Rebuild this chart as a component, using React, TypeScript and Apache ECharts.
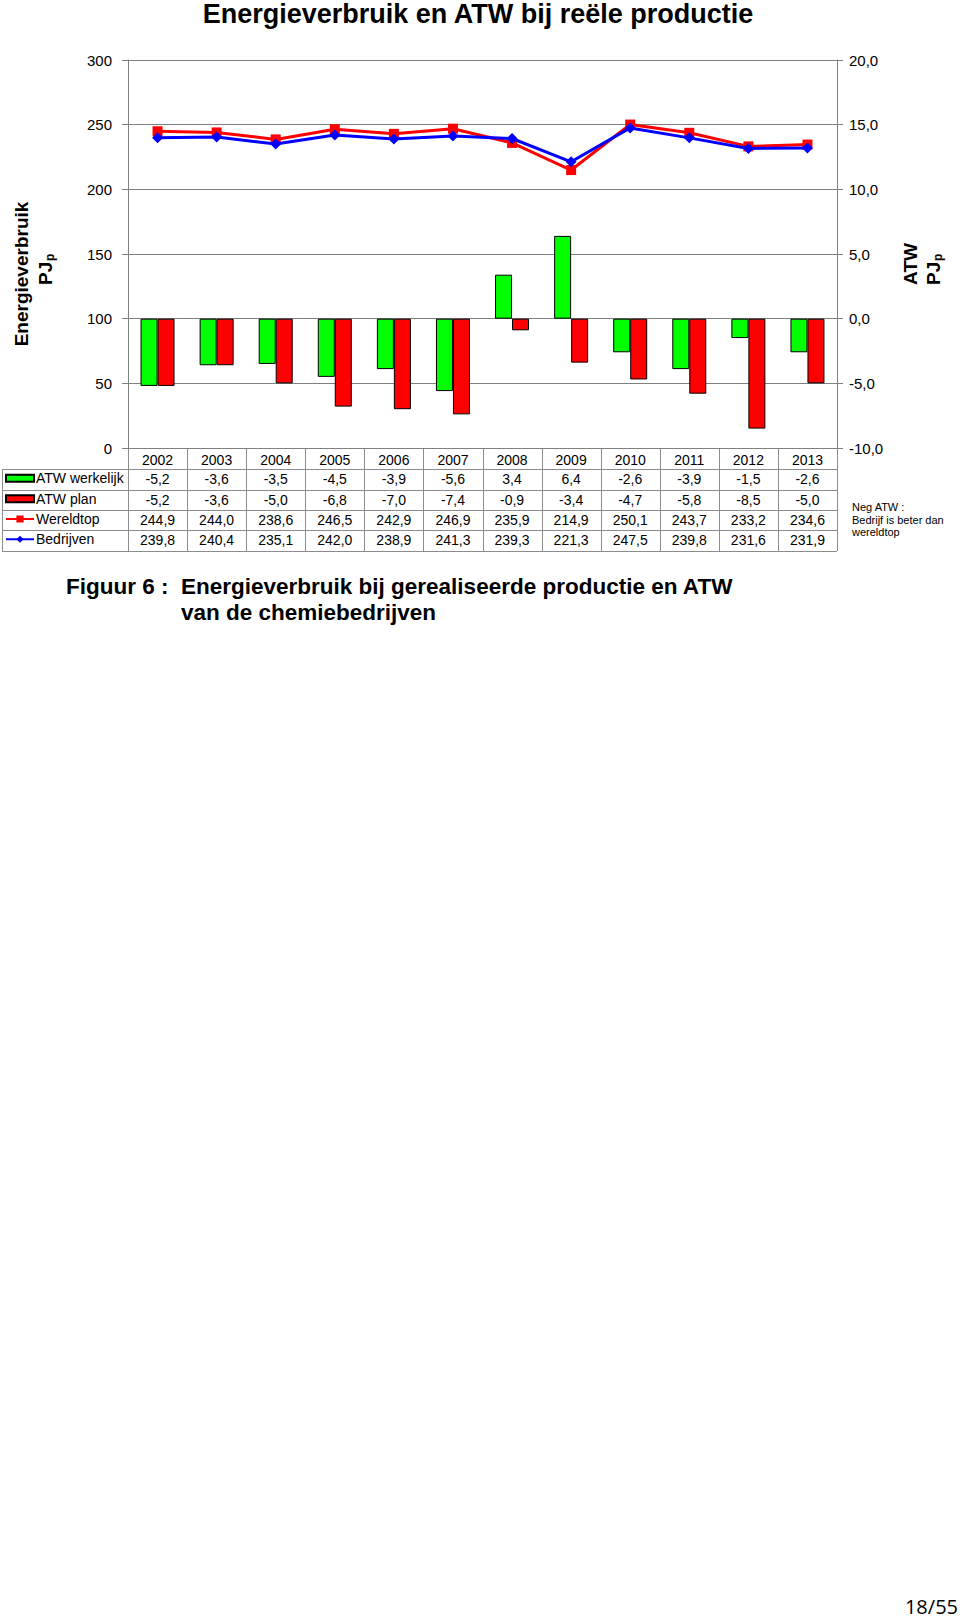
import React, { useEffect, useRef } from 'react';
import * as echarts from 'echarts';

const years = ['2002', '2003', '2004', '2005', '2006', '2007', '2008', '2009', '2010', '2011', '2012', '2013'];
const atwWerkelijk = [-5.2, -3.6, -3.5, -4.5, -3.9, -5.6, 3.4, 6.4, -2.6, -3.9, -1.5, -2.6];
const atwPlan = [-5.2, -3.6, -5.0, -6.8, -7.0, -7.4, -0.9, -3.4, -4.7, -5.8, -8.5, -5.0];
const wereldtop = [244.9, 244.0, 238.6, 246.5, 242.9, 246.9, 235.9, 214.9, 250.1, 243.7, 233.2, 234.6];
const bedrijven = [239.8, 240.4, 235.1, 242.0, 238.9, 241.3, 239.3, 221.3, 247.5, 239.8, 231.6, 231.9];
const seriesNames = ['ATW werkelijk', 'ATW plan', 'Wereldtop', 'Bedrijven'];
const leftAxis = { min: 0, max: 300, interval: 50 };
const rightAxis = { min: -10, max: 20, interval: 5 };

const FONT = "'Liberation Sans', Arial, sans-serif";
const fmt = (v: number) => v.toFixed(1).replace('.', ',');

export default function App() {
  const ref = useRef<HTMLDivElement>(null);
  useEffect(() => {
    if (!ref.current) return;
    const chart = echarts.init(ref.current, undefined, { renderer: 'svg' });

    const gridLeft = 128;
    const gridRight = 837;
    const gridTop = 60;
    const gridBottom = 448;
    const colW = (gridRight - gridLeft) / years.length;
    const rowLines = [469, 489.5, 510, 530, 550.5];
    const rowCenters = [479.25, 499.75, 520, 540.25];
    const tableLine = '#8c8c8c';
    const graphic: any[] = [];

    rowLines.forEach((y) => {
      graphic.push({ type: 'line', shape: { x1: 2, y1: Math.round(y) + 0.5, x2: gridRight, y2: Math.round(y) + 0.5 }, style: { stroke: tableLine, lineWidth: 1 }, silent: true });
    });
    graphic.push({ type: 'line', shape: { x1: 2.5, y1: 469, x2: 2.5, y2: 551 }, style: { stroke: tableLine, lineWidth: 1 }, silent: true });
    for (let i = 0; i <= years.length; i++) {
      const x = Math.round(gridLeft + i * colW) + 0.5;
      graphic.push({ type: 'line', shape: { x1: x, y1: gridBottom, x2: x, y2: 551 }, style: { stroke: tableLine, lineWidth: 1 }, silent: true });
    }
    const rows = [atwWerkelijk, atwPlan, wereldtop, bedrijven];
    rows.forEach((arr, r) => {
      arr.forEach((v, i) => {
        graphic.push({
          type: 'text', x: gridLeft + (i + 0.5) * colW, y: rowCenters[r],
          style: { text: fmt(v), align: 'center', verticalAlign: 'middle', fontSize: 14, fontFamily: FONT, fill: '#000' },
        });
      });
    });

    graphic.push({ type: 'text', x: 478, y: 0, style: { text: 'Energieverbruik en ATW bij reële productie', align: 'center', verticalAlign: 'top', fontSize: 27, fontWeight: 'bold', fontFamily: FONT, fill: '#000' } });

    graphic.push({ type: 'text', x: 21, y: 274, rotation: Math.PI / 2, style: { text: 'Energieverbruik', align: 'center', verticalAlign: 'middle', fontSize: 19, fontWeight: 'bold', fontFamily: FONT, fill: '#000' } });
    graphic.push({ type: 'text', x: 45, y: 285, rotation: Math.PI / 2, style: { text: 'PJ', align: 'left', verticalAlign: 'middle', fontSize: 19, fontWeight: 'bold', fontFamily: FONT, fill: '#000' } });
    graphic.push({ type: 'text', x: 50, y: 261, rotation: Math.PI / 2, style: { text: 'p', align: 'left', verticalAlign: 'middle', fontSize: 12, fontWeight: 'bold', fontFamily: FONT, fill: '#000' } });

    graphic.push({ type: 'text', x: 910, y: 264, rotation: Math.PI / 2, style: { text: 'ATW', align: 'center', verticalAlign: 'middle', fontSize: 19, fontWeight: 'bold', fontFamily: FONT, fill: '#000' } });
    graphic.push({ type: 'text', x: 933, y: 285, rotation: Math.PI / 2, style: { text: 'PJ', align: 'left', verticalAlign: 'middle', fontSize: 19, fontWeight: 'bold', fontFamily: FONT, fill: '#000' } });
    graphic.push({ type: 'text', x: 938, y: 261, rotation: Math.PI / 2, style: { text: 'p', align: 'left', verticalAlign: 'middle', fontSize: 12, fontWeight: 'bold', fontFamily: FONT, fill: '#000' } });

    ['Neg ATW :', 'Bedrijf is beter dan', 'wereldtop'].forEach((t, i) => {
      graphic.push({ type: 'text', x: 852, y: 507 + i * 12.5, style: { text: t, align: 'left', verticalAlign: 'middle', fontSize: 11, fontFamily: FONT, fill: '#000' } });
    });

    graphic.push({ type: 'text', x: 66, y: 586, style: { text: 'Figuur 6 :', align: 'left', verticalAlign: 'middle', fontSize: 22.5, fontWeight: 'bold', fontFamily: FONT, fill: '#000' } });
    graphic.push({ type: 'text', x: 181, y: 586, style: { text: 'Energieverbruik bij gerealiseerde productie en ATW', align: 'left', verticalAlign: 'middle', fontSize: 22.5, fontWeight: 'bold', fontFamily: FONT, fill: '#000' } });
    graphic.push({ type: 'text', x: 181, y: 612, style: { text: 'van de chemiebedrijven', align: 'left', verticalAlign: 'middle', fontSize: 22.5, fontWeight: 'bold', fontFamily: FONT, fill: '#000' } });

    graphic.push({ type: 'text', x: 958, y: 1606, style: { text: '18/55', align: 'right', verticalAlign: 'middle', fontSize: 20, fontFamily: "'Open Sans', 'DejaVu Sans', sans-serif", fill: '#000' } });

    const legendBase = {
      left: 5, padding: 0, itemWidth: 28, itemGap: 0, selectedMode: false,
      textStyle: { fontSize: 14, fontFamily: FONT, color: '#000', padding: [0, 0, 0, -3] },
    };

    chart.setOption({
      animation: false,
      backgroundColor: '#fff',
      grid: { left: gridLeft, right: 960 - gridRight, top: gridTop, bottom: 1618 - gridBottom, containLabel: false },
      legend: [
        { ...legendBase, top: rowCenters[0] - 8, itemHeight: 7, data: [{ name: seriesNames[0], icon: 'rect' }] },
        { ...legendBase, top: rowCenters[1] - 8, itemHeight: 7, data: [{ name: seriesNames[1], icon: 'rect' }] },
        { ...legendBase, top: rowCenters[2] - 8, itemHeight: 9, data: [seriesNames[2]] },
        { ...legendBase, top: rowCenters[3] - 8, itemHeight: 9, data: [seriesNames[3]] },
      ],
      xAxis: {
        type: 'category', data: years,
        axisLine: { show: true, lineStyle: { color: '#808080', width: 1 } },
        axisTick: { show: false },
        axisLabel: { margin: 5, fontSize: 14, fontFamily: FONT, color: '#000' },
      },
      yAxis: [
        {
          type: 'value', position: 'left', ...leftAxis,
          axisLine: { show: true, lineStyle: { color: '#808080', width: 1 } },
          axisTick: { show: true, inside: false, length: 6, lineStyle: { color: '#808080' } },
          axisLabel: { margin: 16, fontSize: 15, fontFamily: FONT, color: '#000' },
          splitLine: { show: true, lineStyle: { color: '#808080', width: 1 } },
        },
        {
          type: 'value', position: 'right', ...rightAxis,
          axisLine: { show: true, lineStyle: { color: '#808080', width: 1 } },
          axisTick: { show: true, inside: false, length: 6, lineStyle: { color: '#808080' } },
          axisLabel: { margin: 12, fontSize: 15, fontFamily: FONT, color: '#000', formatter: (v: number) => fmt(v) },
          splitLine: { show: false },
        },
      ],
      series: [
        {
          name: seriesNames[0], type: 'bar', yAxisIndex: 1, data: atwWerkelijk, barWidth: 17, barGap: '0%',
          itemStyle: { color: '#00FF00', borderColor: '#000', borderWidth: 1 },
        },
        {
          name: seriesNames[1], type: 'bar', yAxisIndex: 1, data: atwPlan, barWidth: 17, barGap: '0%',
          itemStyle: { color: '#FF0000', borderColor: '#000', borderWidth: 1 },
        },
        {
          name: seriesNames[2], type: 'line', yAxisIndex: 0, data: wereldtop, symbol: 'rect', symbolSize: 10,
          lineStyle: { color: '#FF0000', width: 3 }, itemStyle: { color: '#FF0000' }, z: 3,
        },
        {
          name: seriesNames[3], type: 'line', yAxisIndex: 0, data: bedrijven, symbol: 'diamond', symbolSize: 11,
          lineStyle: { color: '#0000FF', width: 3 }, itemStyle: { color: '#0000FF' }, z: 4,
        },
      ],
      graphic,
    });
    return () => chart.dispose();
  }, []);
  return <div ref={ref} style={{ position: 'absolute', left: 0, top: 0, width: 960, height: 1618 }} />;
}
